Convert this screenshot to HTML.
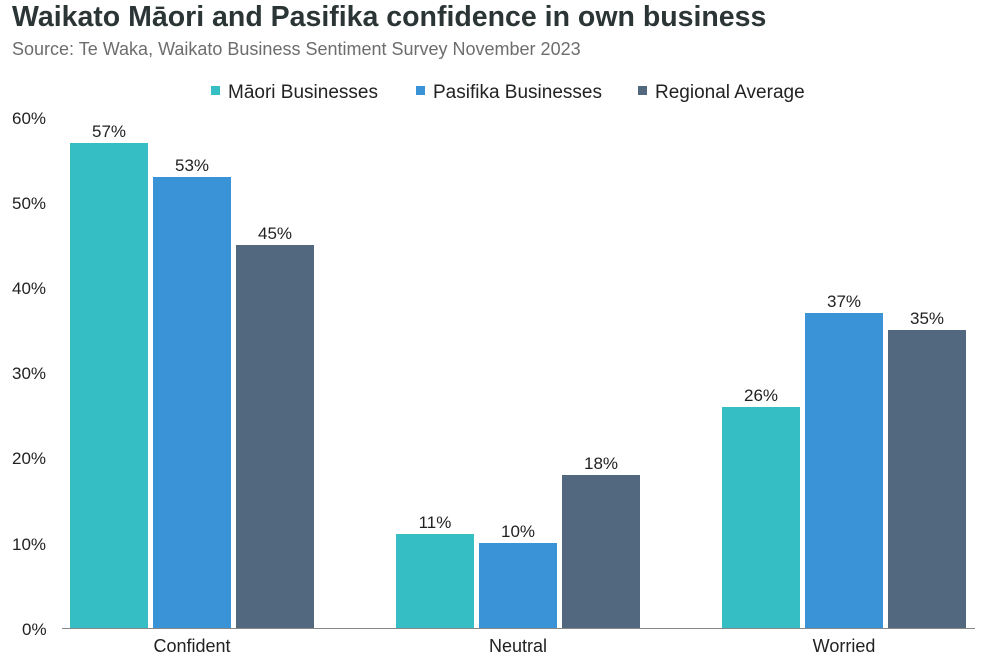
<!DOCTYPE html>
<html><head><meta charset="utf-8"><style>
body{margin:0;background:#fff;width:1003px;height:664px;overflow:hidden;font-family:"Liberation Sans",sans-serif;position:relative}
.t{position:absolute;white-space:nowrap}
</style></head><body>
<div class="t" style="left:12px;top:1px;font-size:28.5px;font-weight:bold;color:#2b3536">Waikato Māori and Pasifika confidence in own business</div>
<div class="t" style="left:12px;top:39px;font-size:18px;color:#6d6d6d">Source: Te Waka, Waikato Business Sentiment Survey November 2023</div>
<svg width="1003" height="664" style="position:absolute;left:0;top:0" font-family="Liberation Sans, sans-serif">
<g font-size="19" fill="#222">
<rect x="211" y="86" width="9" height="9" fill="#35bfc4"/><text x="228" y="98">Māori Businesses</text>
<rect x="416" y="86" width="9" height="9" fill="#3a93d6"/><text x="433" y="98">Pasifika Businesses</text>
<rect x="638" y="86" width="9" height="9" fill="#51687e"/><text x="655" y="98">Regional Average</text>
</g>
<g font-size="17" fill="#222">
<text x="12" y="124">60%</text><text x="12" y="209">50%</text><text x="12" y="294">40%</text>
<text x="12" y="379">30%</text><text x="12" y="464">20%</text><text x="12" y="550">10%</text><text x="22" y="635">0%</text>
</g>
<g>
<rect x="70" y="143" width="78" height="485" fill="#35bfc4"/>
<rect x="153" y="177" width="78" height="451" fill="#3a93d6"/>
<rect x="236" y="245" width="78" height="383" fill="#51687e"/>
<rect x="396" y="534" width="78" height="94" fill="#35bfc4"/>
<rect x="479" y="543" width="78" height="85" fill="#3a93d6"/>
<rect x="562" y="475" width="78" height="153" fill="#51687e"/>
<rect x="722" y="407" width="78" height="221" fill="#35bfc4"/>
<rect x="805" y="313" width="78" height="315" fill="#3a93d6"/>
<rect x="888" y="330" width="78" height="298" fill="#51687e"/>
</g>
<line x1="62" y1="628.5" x2="975" y2="628.5" stroke="#888" stroke-width="1"/>
<g font-size="17" fill="#222" text-anchor="middle">
<text x="109" y="137">57%</text><text x="192" y="171">53%</text><text x="275" y="239">45%</text>
<text x="435" y="528">11%</text><text x="518" y="537">10%</text><text x="601" y="469">18%</text>
<text x="761" y="401">26%</text><text x="844" y="307">37%</text><text x="927" y="324">35%</text>
<text x="192" y="652" font-size="18">Confident</text>
<text x="518" y="652" font-size="18">Neutral</text>
<text x="844" y="652" font-size="18">Worried</text>
</g>
</svg>
</body></html>
